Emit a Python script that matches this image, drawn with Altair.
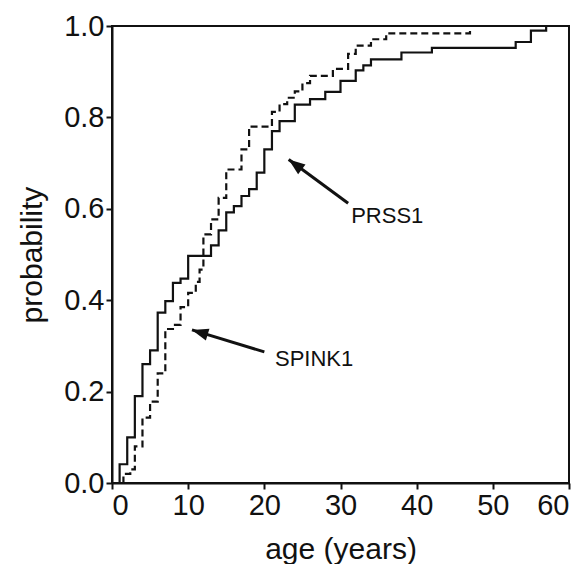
import altair as alt
import pandas as pd

# PRSS1 (solid) step curve
prss1_age = [0, 1, 2, 3, 4, 5, 6, 7, 8, 9, 10, 13, 14, 15, 16, 17, 18, 19, 20, 21, 22, 24, 26, 28, 30, 32, 33, 34, 38, 42, 53, 55, 57]
prss1_prob = [0, 0.041, 0.10, 0.19, 0.26, 0.29, 0.373, 0.398, 0.438, 0.447, 0.497, 0.52, 0.553, 0.592, 0.606, 0.628, 0.643, 0.679, 0.73, 0.77, 0.792, 0.828, 0.84, 0.856, 0.88, 0.903, 0.914, 0.927, 0.942, 0.952, 0.965, 0.99, 1.0]

# SPINK1 (dashed) step curve
spink1_age = [0, 1.5, 2.4, 3, 4, 5, 6, 7, 8, 9, 10, 11, 11.5, 12, 13, 14, 15, 17, 18, 21, 22, 23, 24, 25, 26, 29, 31, 32, 34, 36, 47]
spink1_prob = [0, 0.02, 0.03, 0.08, 0.143, 0.178, 0.24, 0.337, 0.346, 0.385, 0.416, 0.44, 0.467, 0.544, 0.577, 0.624, 0.686, 0.73, 0.78, 0.812, 0.829, 0.843, 0.857, 0.875, 0.891, 0.906, 0.939, 0.957, 0.971, 0.984, 1.0]

labels = ["PRSS1", "SPINK1"]
label_age = [31.4, 21.4]
label_prob = [0.585, 0.272]
arrow_tail_age = [31.0, 20.0]
arrow_tail_prob = [0.612, 0.287]
arrow_tip_age = [23.2, 10.5]
arrow_tip_prob = [0.708, 0.335]
arrow_angle = [307, 287]

x_ticks = [0, 10, 20, 30, 40, 50, 60]
y_ticks = [0.0, 0.2, 0.4, 0.6, 0.8, 1.0]

FONT = "Liberation Sans"
INK = "#111111"

prss1 = pd.DataFrame({"age": prss1_age, "prob": prss1_prob})
spink1 = pd.DataFrame({"age": spink1_age, "prob": spink1_prob})
ann = pd.DataFrame({
    "label": labels, "lx": label_age, "ly": label_prob,
    "tx": arrow_tail_age, "ty": arrow_tail_prob,
    "hx": arrow_tip_age, "hy": arrow_tip_prob, "ang": arrow_angle,
})

xs = alt.Scale(domain=[0, 60], nice=False)
ys = alt.Scale(domain=[0, 1], nice=False)

x_enc = alt.X("age:Q", scale=xs, axis=alt.Axis(values=x_ticks, title="age (years)", format="d"))
y_enc = alt.Y("prob:Q", scale=ys, axis=alt.Axis(values=y_ticks, title="probability", format=".1f"))

solid = alt.Chart(prss1).mark_line(interpolate="step-after", color=INK, strokeWidth=2.2).encode(x=x_enc, y=y_enc)
dashed = alt.Chart(spink1).mark_line(interpolate="step-after", color=INK, strokeWidth=2.2, strokeDash=[7, 4]).encode(x="age:Q", y="prob:Q")

shaft = alt.Chart(ann).mark_rule(color=INK, strokeWidth=3).encode(
    x="tx:Q", y="ty:Q", x2="hx:Q", y2="hy:Q")
head = alt.Chart(ann).mark_point(
    shape="M0,0 L-0.6,1.6 L0.6,1.6 Z", size=420, filled=True, color=INK, opacity=1, strokeWidth=0
).encode(x="hx:Q", y="hy:Q", angle=alt.Angle("ang:Q", scale=None))
text = alt.Chart(ann).mark_text(align="left", baseline="middle", font=FONT, fontSize=22, color=INK).encode(
    x="lx:Q", y="ly:Q", text="label:N")

chart = alt.layer(solid, dashed, shaft, head, text).properties(
    width=457, height=457,
    autosize=alt.AutoSizeParams(type="none"),
    padding={"left": 104, "top": 18, "right": 11, "bottom": 81},
).configure_view(
    stroke=INK, strokeWidth=2
).configure_axis(
    grid=False, domainColor=INK, domainWidth=2, tickColor=INK, tickWidth=2, tickSize=6,
    labelFont=FONT, labelFontSize=29, labelColor=INK, labelPadding=2,
    titleFont=FONT, titleFontSize=30, titleFontWeight="normal", titleColor=INK,
).configure_axisX(titlePadding=14).configure_axisY(titlePadding=16)

chart.save("out.html", embed_options={"renderer": "svg", "actions": False})
